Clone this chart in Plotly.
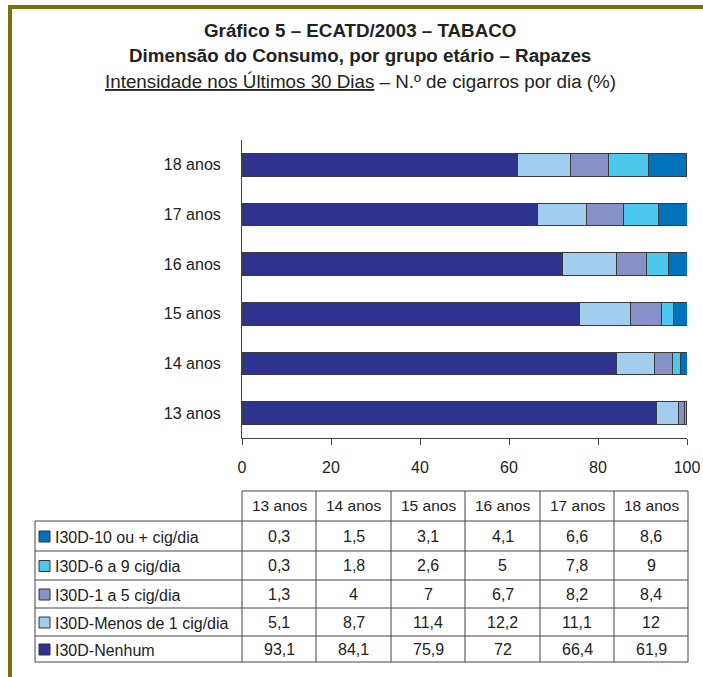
import plotly.graph_objects as go

# Age groups (bottom to top in the bar chart, left to right in the table)
ages = ["13 anos", "14 anos", "15 anos", "16 anos", "17 anos", "18 anos"]

# Share of boys (%) by number of cigarettes per day in the last 30 days
nenhum = [93.1, 84.1, 75.9, 72, 66.4, 61.9]
menos_1 = [5.1, 8.7, 11.4, 12.2, 11.1, 12]
de_1_a_5 = [1.3, 4, 7, 6.7, 8.2, 8.4]
de_6_a_9 = [0.3, 1.8, 2.6, 5, 7.8, 9]
dez_ou_mais = [0.3, 1.5, 3.1, 4.1, 6.6, 8.6]

series_names = ["I30D-Nenhum", "I30D-Menos de 1 cig/dia", "I30D-1 a 5 cig/dia",
                "I30D-6 a 9 cig/dia", "I30D-10 ou + cig/dia"]
series_values = [nenhum, menos_1, de_1_a_5, de_6_a_9, dez_ou_mais]
series_colors = ["#2e3390", "#a3cdee", "#8591c7", "#4dc8ef", "#0072bc"]

x_ticks = [0, 20, 40, 60, 80, 100]

W, H = 703, 677
L, R, T, B = 242, 16, 140, 239
PW, PH = W - L - R, H - T - B
FONT = "Liberation Sans, Arial, Helvetica, sans-serif"
INK = "#222222"
LINE = "#444444"


def px(x):
    return (x - L) / PW


def py(y):
    return (H - B - y) / PH


fig = go.Figure()
for name, vals, col in zip(series_names, series_values, series_colors):
    fig.add_trace(go.Bar(
        y=ages, x=vals, name=name, orientation="h",
        marker=dict(color=col, line=dict(color="#3a3a3a", width=1)),
        width=0.45, showlegend=False,
    ))

shapes = []
annotations = []

# Olive frame along top and left edges
frame = "#777208"
shapes.append(dict(type="rect", xref="paper", yref="paper", x0=px(8), x1=px(W + 2),
                   y0=py(9), y1=py(5), fillcolor=frame, line=dict(width=0), layer="above"))
shapes.append(dict(type="rect", xref="paper", yref="paper", x0=px(8), x1=px(12),
                   y0=py(H + 2), y1=py(5), fillcolor=frame, line=dict(width=0), layer="above"))

# Titles
title_font = dict(size=18.8, color=INK, family=FONT)
annotations.append(dict(text="<b>Gráfico 5 – ECATD/2003 – TABACO</b>", x=px(360), y=py(30),
                        font=title_font))
annotations.append(dict(text="<b>Dimensão do Consumo, por grupo etário – Rapazes</b>", x=px(360), y=py(56),
                        font=title_font))
annotations.append(dict(text="<u>Intensidade nos Últimos 30 Dias</u> – N.º de cigarros por dia (%)",
                        x=px(360), y=py(82), font=title_font))

# Data table under the chart
col_edges = [242, 316, 391, 465, 540, 614, 688]
row_edges = [491, 521, 551, 580, 608, 636, 662]
label_left = 35
lw = dict(color=LINE, width=1)

# horizontal rules
shapes.append(dict(type="line", xref="paper", yref="paper", x0=px(col_edges[0]), x1=px(col_edges[-1]),
                   y0=py(row_edges[0]), y1=py(row_edges[0]), line=lw))
for yy in row_edges[1:]:
    shapes.append(dict(type="line", xref="paper", yref="paper", x0=px(label_left), x1=px(col_edges[-1]),
                       y0=py(yy), y1=py(yy), line=lw))
# vertical rules
shapes.append(dict(type="line", xref="paper", yref="paper", x0=px(label_left), x1=px(label_left),
                   y0=py(row_edges[1]), y1=py(row_edges[-1]), line=lw))
for xx in col_edges:
    shapes.append(dict(type="line", xref="paper", yref="paper", x0=px(xx), x1=px(xx),
                       y0=py(row_edges[0]), y1=py(row_edges[-1]), line=lw))

head_font = dict(size=15.5, color=INK, family=FONT)
cell_font = dict(size=16, color=INK, family=FONT)

# header
for i, a in enumerate(ages):
    cx = (col_edges[i] + col_edges[i + 1]) / 2
    cy = (row_edges[0] + row_edges[1]) / 2
    annotations.append(dict(text=a, x=px(cx), y=py(cy), font=head_font))


def fmt(v):
    return f"{v:g}".replace(".", ",")


# body rows: top row is the last stacked series
table_order = list(range(len(series_names)))[::-1]
for r, si in enumerate(table_order):
    y0, y1 = row_edges[r + 1], row_edges[r + 2]
    cy = (y0 + y1) / 2
    # swatch
    shapes.append(dict(type="rect", xref="paper", yref="paper", x0=px(39), x1=px(50),
                       y0=py(cy + 6), y1=py(cy - 5), fillcolor=series_colors[si],
                       line=dict(color="#333333", width=1)))
    annotations.append(dict(text=series_names[si], x=px(53), y=py(cy + 1), xanchor="left", font=cell_font))
    for i, v in enumerate(series_values[si]):
        cx = (col_edges[i] + col_edges[i + 1]) / 2
        annotations.append(dict(text=fmt(v), x=px(cx), y=py(cy), font=cell_font))

for a in annotations:
    a.setdefault("xref", "paper")
    a.setdefault("yref", "paper")
    a.setdefault("showarrow", False)
    a.setdefault("xanchor", "center")
    a.setdefault("yanchor", "middle")

fig.update_layout(
    width=W, height=H,
    margin=dict(l=L, r=R, t=T, b=B, autoexpand=False),
    paper_bgcolor="white", plot_bgcolor="white",
    barmode="stack", bargap=0.55,
    font=dict(family=FONT, color=INK, size=16),
    shapes=shapes, annotations=annotations,
    xaxis=dict(range=[0, 100], tickvals=x_ticks, showgrid=False, zeroline=False,
               showline=True, linecolor=LINE, linewidth=1, ticks="outside", ticklen=6,
               tickcolor=LINE, tickfont=dict(size=16, color=INK, family=FONT),
               ticklabelstandoff=9, fixedrange=True),
    yaxis=dict(categoryorder="array", categoryarray=ages, range=[-0.5, 5.5], showgrid=False,
               zeroline=False, showline=True, linecolor=LINE, linewidth=1, ticks="",
               tickfont=dict(size=16, color=INK, family=FONT), ticklabelstandoff=17,
               fixedrange=True),
)

fig.write_html("out.html")
